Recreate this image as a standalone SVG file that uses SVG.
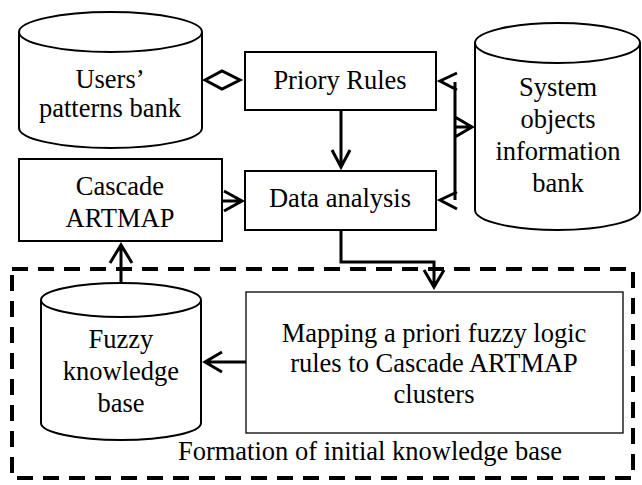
<svg xmlns="http://www.w3.org/2000/svg" width="642" height="485" viewBox="0 0 642 485">
<style>
.box{fill:#fff;stroke:#000;stroke-width:2}
.thin{fill:#fff;stroke:#000;stroke-width:1.3}
.cyl{fill:#fff;stroke:#000;stroke-width:2}
.t{font-family:"Liberation Serif","Times New Roman",serif;font-size:26.5px;fill:#000;text-anchor:middle}
.c{fill:none;stroke:#000;stroke-width:3}
.h{fill:none;stroke:#000;stroke-width:3;stroke-linejoin:miter}
</style>
<rect width="642" height="485" fill="#fff"/>
<g id="formation">
<rect x="12" y="269" width="621" height="209" fill="none" stroke="#000" stroke-width="4" stroke-dasharray="16 10"/>
<text class="t" x="370" y="460">Formation of initial knowledge base</text>
</g>
<g id="users">
<path class="cyl" d="M19,32 A91.5,20 0 0 1 202,32 L202,128 A91.5,20 0 0 1 19,128 Z M19,32 A91.5,20 0 0 0 202,32"/>
<text class="t" x="110" y="88">Users’</text>
<text class="t" x="110" y="117">patterns bank</text>
</g>
<g id="priory">
<rect class="box" x="245" y="52" width="191" height="58"/>
<text class="t" x="340" y="89">Priory Rules</text>
</g>
<g id="data">
<rect class="box" x="245" y="171" width="191" height="59"/>
<text class="t" x="340" y="207">Data analysis</text>
</g>
<g id="cascade">
<rect class="box" x="19" y="159" width="203" height="82"/>
<text class="t" x="120" y="195">Cascade</text>
<text class="t" x="120" y="227">ARTMAP</text>
</g>
<g id="system">
<path class="cyl" d="M475,43 A82.5,20 0 0 1 640,43 L640,210 A82.5,20 0 0 1 475,210 Z M475,43 A82.5,20 0 0 0 640,43"/>
<text class="t" x="558" y="96">System</text>
<text class="t" x="558" y="128">objects</text>
<text class="t" x="558" y="160">information</text>
<text class="t" x="558" y="192">bank</text>
</g>
<g id="fuzzy">
<path class="cyl" d="M41,300 A80,17 0 0 1 201,300 L201,423 A80,17 0 0 1 41,423 Z M41,300 A80,17 0 0 0 201,300"/>
<text class="t" x="121" y="348">Fuzzy</text>
<text class="t" x="121" y="380">knowledge</text>
<text class="t" x="121" y="412">base</text>
</g>
<g id="mapping">
<rect class="thin" x="246" y="292" width="377" height="141"/>
<text class="t" x="434" y="342">Mapping a priori fuzzy logic</text>
<text class="t" x="434" y="372">rules to Cascade ARTMAP</text>
<text class="t" x="434" y="403">clusters</text>
</g>
<g id="connectors">
<path class="h" d="M205,80 L222,71 L240,80 L222,89 Z" fill="#fff"/>
<path class="c" d="M341,110 V167 M332,150 L341,167 L350,150"/>
<path class="c" d="M222,201 H242 M224,191 L242,201 L224,211"/>
<path class="c" d="M455,82 V200 M457,73 L440,81 L457,90 M455,127 H472 M455,117 L472,127 L455,137 M457,192 L440,200 L457,209"/>
<path class="c" d="M341,230 V262 H434 V287 M424,270 L434,287 L444,270"/>
<path class="c" d="M121,283 V245 M110,263 L121,245 L132,263"/>
<path class="c" d="M246,362 H205 M222,352 L205,362 L222,372"/>
</g>
</svg>
